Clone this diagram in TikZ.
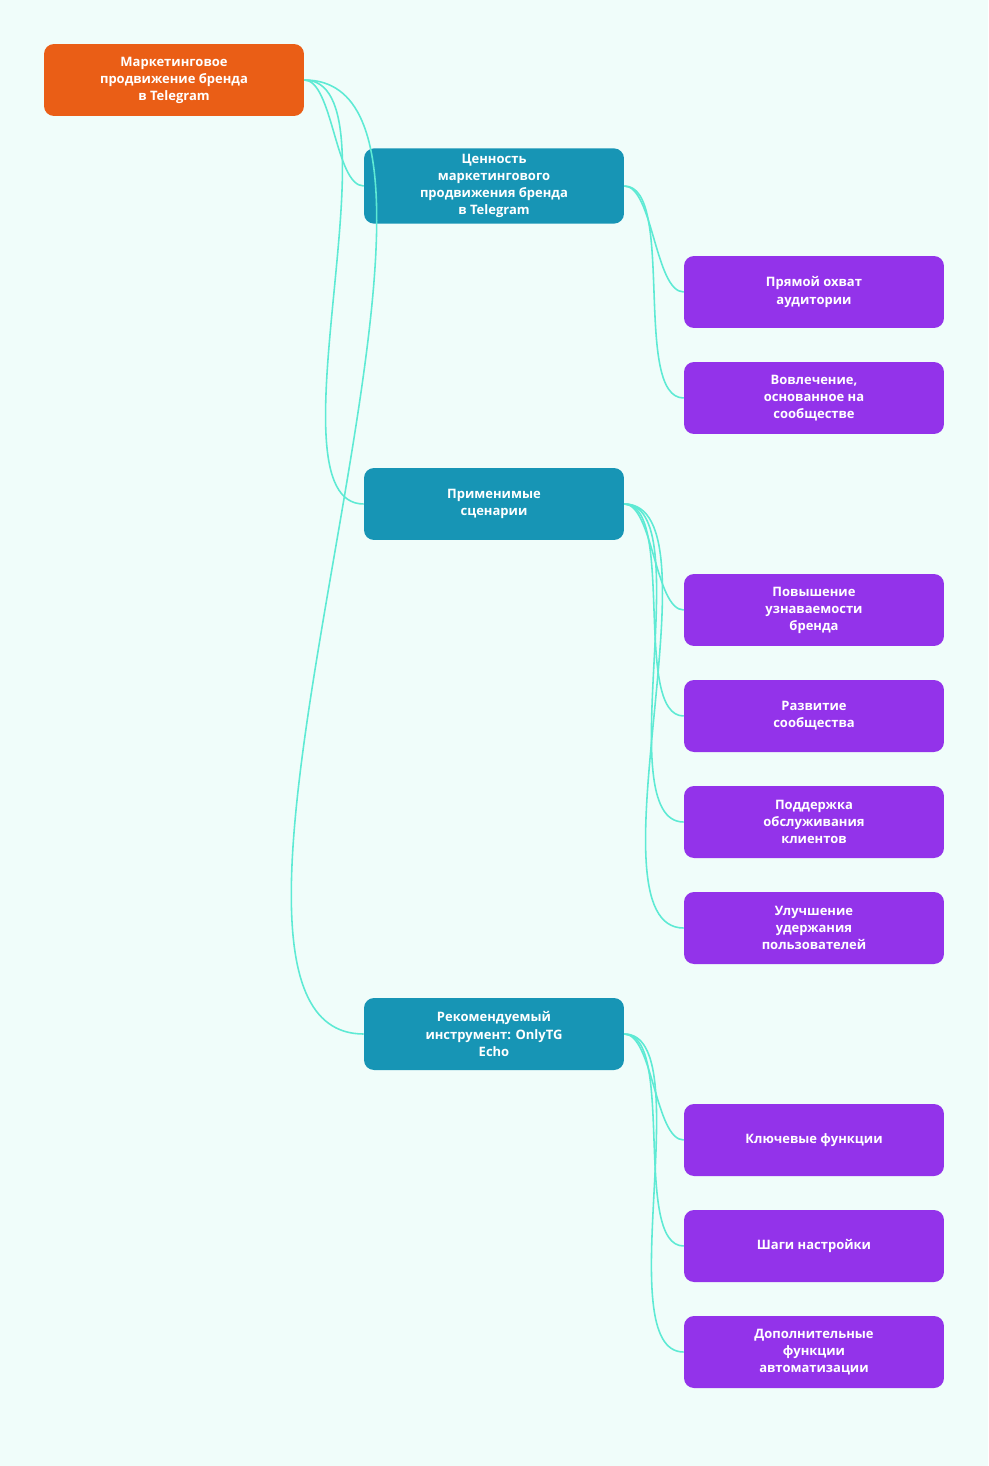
\documentclass[tikz,border=0pt]{standalone}
\usepackage{fontspec}
\setmainfont{Open Sans}
\usepackage{tikz}
\usetikzlibrary{positioning}
\definecolor{bgcol}{HTML}{F0FDFA}
\definecolor{rootcol}{HTML}{EA5E16}
\definecolor{midcol}{HTML}{1795B5}
\definecolor{leafcol}{HTML}{9333EA}
\definecolor{linkcol}{HTML}{5EEAD4}

\begin{document}
\begin{tikzpicture}[
    x=0.02cm, y=-0.02cm,
    box/.style={rectangle, rounded corners=0.2cm, minimum width=5.2cm, minimum height=1.44cm, align=center, text=white, font=\fontsize{7.4}{9.7}\selectfont\bfseries},
    root/.style={box, fill=rootcol},
    topic/.style={box, fill=midcol},
    leaf/.style={box, fill=leafcol},
    link/.style={linkcol, line width=0.9pt, out=0, in=180, looseness=0.6}
]
\fill[bgcol] (0,0) rectangle (988,1466);

% Root
\node[root] (brand) at (174,80) {Маркетинговое\\продвижение бренда\\в Telegram};

% Topics
\node[topic] (value) at (494,186) {Ценность\\маркетингового\\продвижения бренда\\в Telegram};
\node[topic] (cases) at (494,504) {Применимые\\сценарии};
\node[topic] (tool) at (494,1034) {Рекомендуемый\\инструмент: OnlyTG\\Echo};

% Leaves
\node[leaf] (reach) at (814,292) {Прямой охват\\аудитории};
\node[leaf] (engage) at (814,398) {Вовлечение,\\основанное на\\сообществе};
\node[leaf] (aware) at (814,610) {Повышение\\узнаваемости\\бренда};
\node[leaf] (community) at (814,716) {Развитие\\сообщества};
\node[leaf] (support) at (814,822) {Поддержка\\обслуживания\\клиентов};
\node[leaf] (retention) at (814,928) {Улучшение\\удержания\\пользователей};
\node[leaf] (features) at (814,1140) {Ключевые функции};
\node[leaf] (setup) at (814,1246) {Шаги настройки};
\node[leaf] (automation) at (814,1352) {Дополнительные\\функции\\автоматизации};

% Links
\foreach \t in {value,cases,tool}
  \draw[link] (brand.east) to (\t.west);
\foreach \l in {reach,engage}
  \draw[link] (value.east) to (\l.west);
\foreach \l in {aware,community,support,retention}
  \draw[link] (cases.east) to (\l.west);
\foreach \l in {features,setup,automation}
  \draw[link] (tool.east) to (\l.west);

\end{tikzpicture}
\end{document}
